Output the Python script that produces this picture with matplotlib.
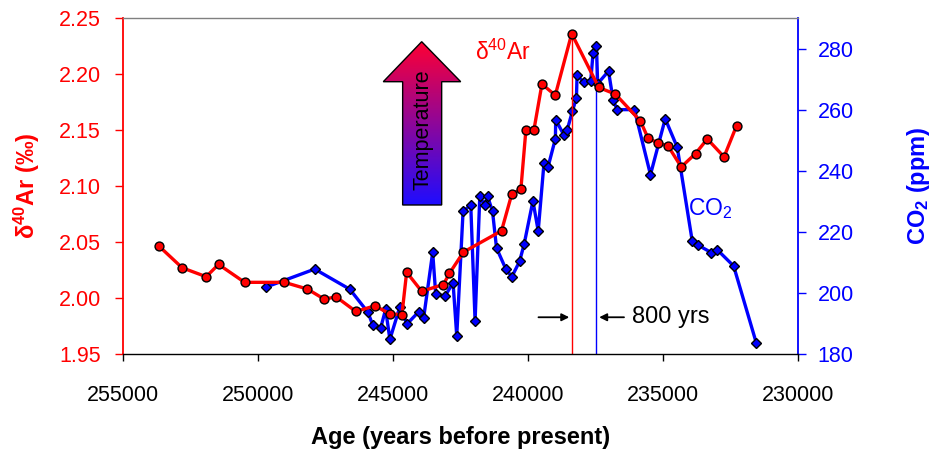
import numpy as np
import matplotlib
matplotlib.use("Agg")
import matplotlib.pyplot as plt
from matplotlib.patches import Polygon

plt.rcParams['font.family'] = ['Liberation Sans', 'DejaVu Sans']
plt.rcParams['mathtext.fontset'] = 'custom'
plt.rcParams['mathtext.rm'] = 'Liberation Sans'
plt.rcParams['mathtext.it'] = 'Liberation Sans:italic'
plt.rcParams['mathtext.bf'] = 'Liberation Sans:bold'

# ---- data ----
ar_age = [253653, 252810, 251919, 251462, 250497, 249024, 248170, 247550, 247105,
          246377, 245672, 245126, 244670, 244495, 243939, 243133, 242910, 242390,
          240980, 240598, 240264, 240078, 239781, 239484, 238990, 238382, 237380,
          236763, 235835, 235560, 235167, 234818, 234324, 233793, 233359, 232740,
          232272]
ar_val = [2.046, 2.027, 2.019, 2.030, 2.014, 2.014, 2.008, 1.999, 2.001,
          1.988, 1.993, 1.986, 1.985, 2.023, 2.006, 2.012, 2.022, 2.041,
          2.060, 2.093, 2.097, 2.150, 2.150, 2.191, 2.181, 2.236, 2.188,
          2.182, 2.158, 2.143, 2.138, 2.136, 2.117, 2.129, 2.142, 2.126,
          2.154]

co2_age = [249703, 247899, 246600, 245932, 245746, 245460, 245274, 245115, 244744,
           244484, 244050, 243864, 243530, 243419, 243073, 242776, 242639, 242405,
           242120, 241960, 241785, 241611, 241500, 241314, 241166, 240820, 240598,
           240313, 240142, 239818, 239622, 239408, 239259, 238985, 238974, 238666,
           238554, 238354, 238206, 238183, 237935, 237675, 237590, 237464, 237420,
           237018, 236844, 236696, 236058, 235464, 234918, 234473, 233916, 233693,
           233211, 232999, 232383, 231541]
co2_val = [201.9, 207.8, 201.2, 193.7, 189.4, 188.4, 194.6, 184.8, 195.5,
           189.8, 193.8, 191.9, 213.3, 199.7, 198.9, 203.4, 185.9, 226.7,
           228.7, 190.8, 231.7, 228.7, 231.7, 226.7, 214.7, 207.8, 205.3,
           210.3, 216.0, 230.1, 220.3, 242.5, 241.2, 250.5, 256.7, 251.6,
           253.2, 259.5, 263.9, 271.2, 269.0, 269.5, 278.6, 280.7, 268.5,
           272.6, 263.0, 260.0, 260.0, 238.7, 257.0, 247.7, 216.9, 215.6,
           213.2, 214.2, 208.8, 183.5]

x_ticks = [255000, 250000, 245000, 240000, 235000, 230000]
ar_ticks = [1.95, 2.00, 2.05, 2.10, 2.15, 2.20, 2.25]
co2_ticks = [180, 200, 220, 240, 260, 280]

RED = '#ff0000'
BLUE = '#0000ff'

fig = plt.figure(figsize=(9.31, 4.55), dpi=100)
ax = fig.add_axes([123/931, 101/455, 675/931, 336/455])
ax2 = ax.twinx()
ax.set_zorder(ax2.get_zorder() + 1)
ax.patch.set_visible(False)

# CO2 series (right axis)
ax2.plot(co2_age, co2_val, color=BLUE, lw=2.4, marker='D', ms=5.4,
         mfc=BLUE, mec='black', mew=1.0, zorder=3)
i_c = int(np.argmax(co2_val))
ax2.vlines(co2_age[i_c], 180, co2_val[i_c] + 1.5, color=BLUE, lw=1.0, zorder=2)

# Argon series (left axis)
ax.plot(ar_age, ar_val, color=RED, lw=2.4, marker='o', ms=6.4,
        mfc=RED, mec='black', mew=1.0, zorder=3)
i_a = int(np.argmax(ar_val))
ax.vlines(ar_age[i_a], 1.95, ar_val[i_a], color=RED, lw=1.0, zorder=2)

# axes limits / ticks
ax.set_xlim(255000, 230000)
ax.set_ylim(1.95, 2.25)
ax2.set_ylim(180, 290)
ax.set_xticks(x_ticks)
ax.set_xticklabels([str(t) for t in x_ticks])
ax.set_yticks(ar_ticks)
ax.set_yticklabels(['%.2f' % t for t in ar_ticks])
ax2.set_yticks(co2_ticks)
ax2.set_yticklabels([str(t) for t in co2_ticks])

ax.tick_params(axis='x', direction='out', length=5, width=1, colors='black',
               labelsize=15.5, pad=17)
ax.tick_params(axis='y', direction='out', length=5.5, width=1, colors=RED,
               labelsize=15.5, pad=10.5)
ax2.tick_params(axis='y', direction='out', length=5.5, width=1, colors=BLUE,
                labelsize=15.5, pad=8.5)

for s in ['left', 'right', 'top', 'bottom']:
    ax2.spines[s].set_visible(False)
ax2.spines['right'].set_visible(True)
ax2.spines['right'].set_color(BLUE)
ax2.spines['right'].set_linewidth(1.3)
ax.spines['right'].set_visible(False)
ax.spines['left'].set_color(RED)
ax.spines['left'].set_linewidth(1.3)
ax.spines['top'].set_color('#808080')
ax.spines['top'].set_linewidth(1.0)
ax.spines['bottom'].set_color('black')
ax.spines['bottom'].set_linewidth(1.0)

ax.set_xlabel('Age (years before present)', fontsize=17, fontweight='bold', labelpad=15)
ax.set_ylabel(r'$\mathbf{\delta}^{\mathbf{40}}$Ar (‰)', fontsize=17,
              fontweight='bold', color=RED, labelpad=12)
ax2.set_ylabel(r'CO$_{\mathbf{2}}$ (ppm)', fontsize=17, fontweight='bold',
               color=BLUE, labelpad=37, rotation=90)

# annotations
ax.text(0.5215, 0.875, r'δ$^{40}$Ar', transform=ax.transAxes, color=RED,
        fontsize=16.5, ha='left', va='baseline')
ax.text(0.8375, 0.414, r'CO$_2$', transform=ax.transAxes, color=BLUE,
        fontsize=16.5, ha='left', va='baseline')

y_arrow = 1.9828
ax.annotate('', xy=(ar_age[i_a] + 90, y_arrow), xytext=(ar_age[i_a] + 1230, y_arrow),
            arrowprops=dict(arrowstyle='-|>', color='black', lw=1.3,
                            mutation_scale=11, shrinkA=0, shrinkB=0))
ax.annotate('', xy=(co2_age[i_c] - 100, y_arrow), xytext=(co2_age[i_c] - 1020, y_arrow),
            arrowprops=dict(arrowstyle='-|>', color='black', lw=1.3,
                            mutation_scale=11, shrinkA=0, shrinkB=0))
ax.text(co2_age[i_c] - 1330, y_arrow, '800 yrs', fontsize=17, color='black',
        ha='left', va='center')

# Temperature gradient arrow (overlay axes in axes-fraction coords)
ov = fig.add_axes(ax.get_position(), zorder=ax.get_zorder() + 1)
ov.set_xlim(0, 1)
ov.set_ylim(0, 1)
ov.axis('off')
pts = [(0.4143, 0.4435), (0.4721, 0.4435), (0.4721, 0.8104), (0.5003, 0.8104),
       (0.4425, 0.9295), (0.3856, 0.8104), (0.4143, 0.8104)]
poly = Polygon(pts, closed=True, facecolor='none', edgecolor='black', lw=1.0, zorder=3)
ov.add_patch(poly)
top_c = np.array([1.0, 0.0, 0.2])
bot_c = np.array([0.12, 0.05, 1.0])
t = np.linspace(0, 1, 256)[:, None]
grad = (top_c[None, :] * (1 - t) + bot_c[None, :] * t)[:, None, :]
im = ov.imshow(grad, extent=[0.3856, 0.5003, 0.4435, 0.9295], origin='upper',
               aspect='auto', interpolation='bilinear', zorder=2)
clip = Polygon(pts, closed=True, transform=ov.transData, facecolor='none', edgecolor='none')
im.set_clip_path(clip)
ov.set_xlim(0, 1)
ov.set_ylim(0, 1)
ov.text(0.4444, 0.6667, 'Temperature', rotation=90, fontsize=15.5, color='black',
        ha='center', va='center', zorder=4)

fig.savefig('out.png', dpi=100)
